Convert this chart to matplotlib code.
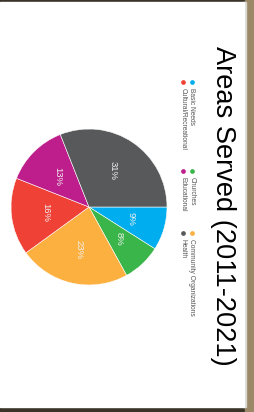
import matplotlib
matplotlib.use('Agg')
import matplotlib.pyplot as plt
from matplotlib.patches import Rectangle

# datos del gráfico (foto del gráfico girada 90 grados)
categorias = ["Basic Needs", "Churches", "Community Organizations",
              "Cultural/Recreational", "Educational", "Health"]
porcentajes = [9, 8, 23, 16, 13, 31]
colores = ["#00aeef", "#39b54a", "#fbb040", "#ef4136", "#be1e8c", "#58595b"]
titulo = "Areas Served (2011-2021)"

W, H = 254, 412
fig = plt.figure(figsize=(W / 100, H / 100), dpi=100)
fig.patch.set_facecolor('#3a3428')

# capa de fondo en píxeles (y hacia abajo)
fondo = fig.add_axes([0, 0, 1, 1])
fondo.set_xlim(0, W)
fondo.set_ylim(H, 0)
fondo.axis('off')
fondo.add_patch(Rectangle((245, 0), 9, H, color='#9a8866', zorder=0))
fondo.add_patch(Rectangle((243, 2), 3, 405, color='#d8d6d0', zorder=1))
fondo.add_patch(Rectangle((0, 2), 244, 405, color='white', zorder=2))

# tarta: centro (89, 207), radio 78 px
cx, cy, r = 89, 207, 78
ax = fig.add_axes([(cx - r) / W, (H - cy - r) / H, 2 * r / W, 2 * r / H])
cunas, textos, autotextos = ax.pie(porcentajes, colors=colores, startangle=0,
                                    counterclock=False, autopct='%d%%',
                                    pctdistance=0.56,
                                    wedgeprops=dict(linewidth=0.4, edgecolor='white'),
                                    textprops=dict(color='#f0f0f0', fontsize=6.8,
                                                   family='Liberation Sans'))
for t in autotextos:
    t.set_rotation(-90)
ax.set_xlim(-1, 1)
ax.set_ylim(-1, 1)
ax.set_aspect('equal')
ax.axis('off')

# título girado
ax_top = fig.add_axes([0, 0, 1, 1])
ax_top.set_xlim(0, W)
ax_top.set_ylim(H, 0)
ax_top.axis('off')
ax_top.text(223, 206, titulo, rotation=-90, ha='center', va='center',
            fontsize=19.6, family='Liberation Sans', color='black')

# leyenda manual girada (dos filas)
pos_x = [192, 192, 192, 183, 183, 183]
pos_y = [82, 171, 233, 82, 171, 233]
for i, nombre in enumerate(categorias):
    ax_top.plot(pos_x[i], pos_y[i], 'o', color=colores[i], markersize=3.4,
                markeredgewidth=0)
    ax_top.text(pos_x[i], pos_y[i] + 6, nombre, rotation=-90, ha='center', va='top',
                fontsize=4.8, family='Liberation Sans', color='#555555')

fig.savefig('out.png', dpi=100)
